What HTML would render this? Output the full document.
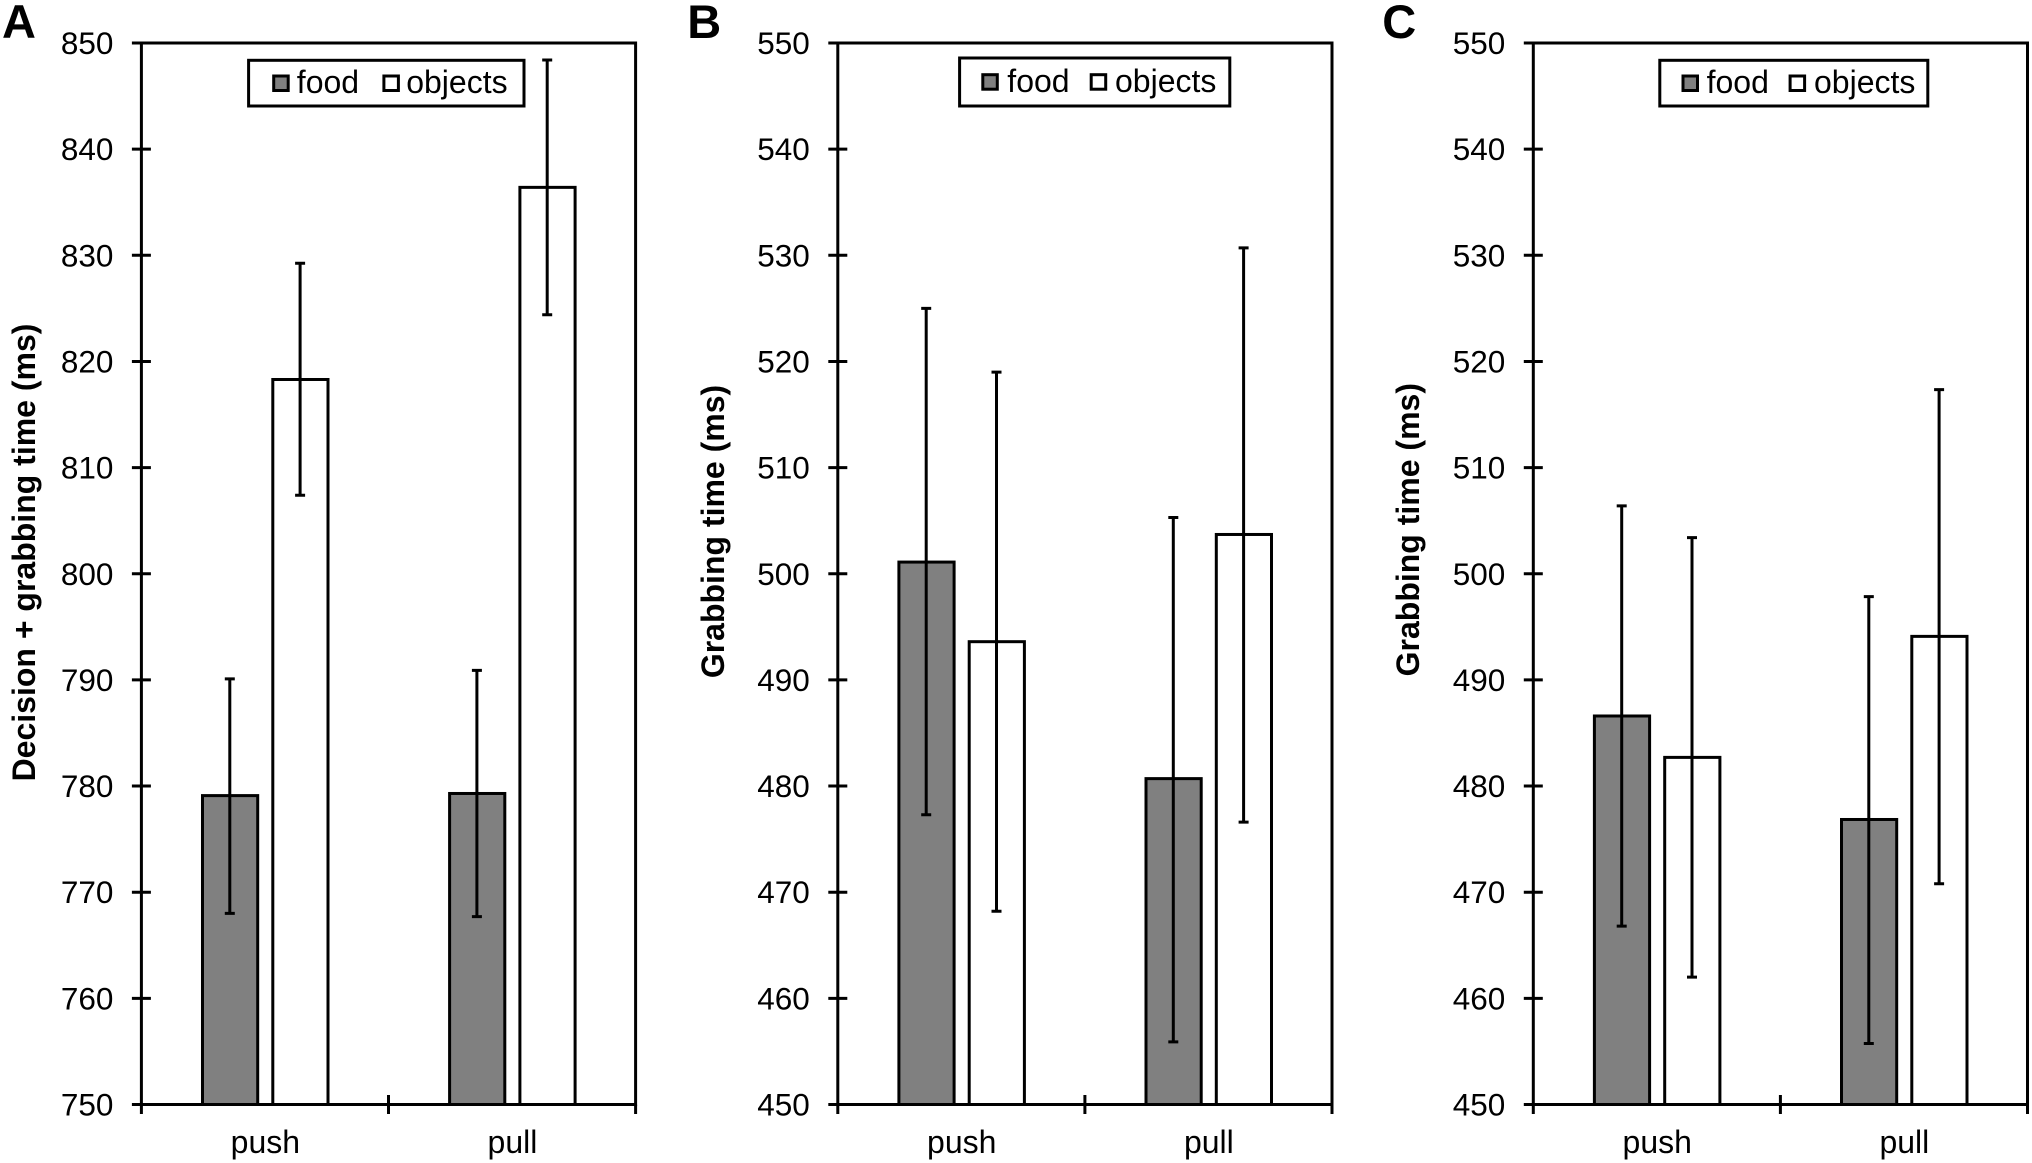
<!DOCTYPE html>
<html lang="en">
<head>
<meta charset="utf-8">
<title>Grabbing time bar charts</title>
<style>
html,body{margin:0;padding:0;background:#fff;width:2032px;height:1163px;overflow:hidden}
svg{display:block;font-family:"Liberation Sans",Arial,sans-serif}
</style>
</head>
<body>
<svg id="figure" width="2032" height="1163" viewBox="0 0 2032 1163" xmlns="http://www.w3.org/2000/svg"></svg>
<script>
const categories = ['push', 'pull'];
const seriesNames = ['food', 'objects'];

const panelATicks = [750, 760, 770, 780, 790, 800, 810, 820, 830, 840, 850];
const panelAFood = [779.1, 779.3];
const panelAFoodHigh = [790.1, 790.9];
const panelAFoodLow = [768.0, 767.7];
const panelAObjects = [818.3, 836.4];
const panelAObjectsHigh = [829.25, 848.4];
const panelAObjectsLow = [807.4, 824.4];

const panelBTicks = [450, 460, 470, 480, 490, 500, 510, 520, 530, 540, 550];
const panelBFood = [501.1, 480.7];
const panelBFoodHigh = [525.0, 505.3];
const panelBFoodLow = [477.3, 455.9];
const panelBObjects = [493.6, 503.7];
const panelBObjectsHigh = [519.0, 530.7];
const panelBObjectsLow = [468.2, 476.6];

const panelCTicks = [450, 460, 470, 480, 490, 500, 510, 520, 530, 540, 550];
const panelCFood = [486.6, 476.85];
const panelCFoodHigh = [506.4, 497.85];
const panelCFoodLow = [466.8, 455.75];
const panelCObjects = [482.7, 494.1];
const panelCObjectsHigh = [503.4, 517.35];
const panelCObjectsLow = [462.0, 470.8];

const panelATitle = 'Decision + grabbing time (ms)';
const panelBTitle = 'Grabbing time (ms)';
const panelCTitle = 'Grabbing time (ms)';

const panels = [
  { id: 'a', letter: 'A', letterX: 2, left: 141.4, ticks: panelATicks, food: panelAFood, foodHigh: panelAFoodHigh, foodLow: panelAFoodLow, objects: panelAObjects, objectsHigh: panelAObjectsHigh, objectsLow: panelAObjectsLow, title: panelATitle, titleX: 35, titleY: 552.5,
    legend: { x: 248.6, y: 60.3, w: 275.4, h: 45.7, s1: 273.7, t1: 296.8, s2: 383.9, t2: 406.2, sy: 76, base: 93 } },
  { id: 'b', letter: 'B', letterX: 687.3, left: 837.8, ticks: panelBTicks, food: panelBFood, foodHigh: panelBFoodHigh, foodLow: panelBFoodLow, objects: panelBObjects, objectsHigh: panelBObjectsHigh, objectsLow: panelBObjectsLow, title: panelBTitle, titleX: 724.2, titleY: 531.5,
    legend: { x: 959.6, y: 58, w: 270.2, h: 48, s1: 982.8, t1: 1007.3, s2: 1091.2, t2: 1115, sy: 74.7, base: 92 } },
  { id: 'c', letter: 'C', letterX: 1382.2, left: 1533.3, ticks: panelCTicks, food: panelCFood, foodHigh: panelCFoodHigh, foodLow: panelCFoodLow, objects: panelCObjects, objectsHigh: panelCObjectsHigh, objectsLow: panelCObjectsLow, title: panelCTitle, titleX: 1419.2, titleY: 529.7,
    legend: { x: 1659.8, y: 60.3, w: 268, h: 45.7, s1: 1683, t1: 1706.6, s2: 1790.1, t2: 1814, sy: 76, base: 93 } }
];

const TOP = 43;
const BOTTOM = 1104.5;
const WIDTH = 494.2;
const BAR_W = 55.2;
const BAR_OFFSET = 35.15;
const INK = '#000';
const NS = 'http://www.w3.org/2000/svg';
const figure = document.getElementById('figure');

function make(parent, tag, attrs, text) {
  const node = document.createElementNS(NS, tag);
  for (const key in attrs) node.setAttribute(key, attrs[key]);
  if (text !== undefined) node.textContent = text;
  parent.appendChild(node);
  return node;
}

function yScale(panel, value) {
  const lo = panel.ticks[0];
  const hi = panel.ticks[panel.ticks.length - 1];
  return BOTTOM - (value - lo) / (hi - lo) * (BOTTOM - TOP);
}

function xCategory(panel, index) {
  return panel.left + (index + 0.5) * WIDTH / categories.length;
}

function drawBar(group, panel, catIndex, seriesIndex, value, high, low) {
  const cx = xCategory(panel, catIndex) + (seriesIndex === 0 ? -BAR_OFFSET : BAR_OFFSET);
  const top = yScale(panel, value);
  const bar = make(group, 'rect', { x: cx - BAR_W / 2 + 0.3, y: top, width: BAR_W, height: BOTTOM - top, fill: seriesIndex === 0 ? '#808080' : '#fff', stroke: INK, 'stroke-width': 3 });
  
  

  const yHigh = yScale(panel, high);
  const yLow = yScale(panel, low);
  const err = make(group, 'path', { d: 'M' + cx + ' ' + yHigh + 'V' + yLow + 'M' + (cx - 5) + ' ' + yHigh + 'H' + (cx + 5) + 'M' + (cx - 5) + ' ' + yLow + 'H' + (cx + 5), fill: 'none', stroke: INK, 'stroke-width': 3 });
  
  
}

function drawPanel(panel) {
  const group = make(figure, 'g', {});
  
  

  const letter = make(group, 'text', { x: panel.letterX, y: 38, 'font-size': 47, 'font-weight': 700, fill: INK }, panel.letter);
  
  

  const title = make(group, 'text', { transform: 'translate(' + panel.titleX + ' ' + panel.titleY + ') rotate(-90)', 'text-anchor': 'middle', 'font-size': 32, 'font-weight': 700, fill: INK }, panel.title);
  
  

  categories.forEach(function (cat, i) {
    drawBar(group, panel, i, 0, panel.food[i], panel.foodHigh[i], panel.foodLow[i]);
    drawBar(group, panel, i, 1, panel.objects[i], panel.objectsHigh[i], panel.objectsLow[i]);
    const label = make(group, 'text', { x: xCategory(panel, i) + 0.4, y: 1153, 'text-anchor': 'middle', 'font-size': 32, fill: INK }, cat);
    
    
  });

  const frame = make(group, 'rect', { x: panel.left, y: TOP, width: WIDTH, height: BOTTOM - TOP, fill: 'none', stroke: INK, 'stroke-width': 3 });
  
  

  panel.ticks.forEach(function (tick) {
    const y = yScale(panel, tick);
    const mark = make(group, 'line', { x1: panel.left - 9.5, x2: panel.left + 9.5, y1: y, y2: y, stroke: INK, 'stroke-width': 3 });
    
    
    const label = make(group, 'text', { x: panel.left - 28, y: y + 11, 'text-anchor': 'end', 'font-size': 31.5, fill: INK }, String(tick));
    
    
  });

  for (let i = 0; i <= categories.length; i++) {
    const x = panel.left + i * WIDTH / categories.length;
    const mark = make(group, 'line', { x1: x, x2: x, y1: i === 1 ? BOTTOM - 9.5 : BOTTOM, y2: BOTTOM + 9.5, stroke: INK, 'stroke-width': 3 });
    
    
  }

  const lg = panel.legend;
  const legend = make(group, 'g', {});
  
  
  make(legend, 'rect', { x: lg.x, y: lg.y, width: lg.w, height: lg.h, fill: '#fff', stroke: INK, 'stroke-width': 3 });

  const foodEntry = make(legend, 'g', {});
  
  
  make(foodEntry, 'rect', { x: lg.s1, y: lg.sy, width: 14.5, height: 14.5, fill: '#808080', stroke: INK, 'stroke-width': 3 });
  make(foodEntry, 'text', { x: lg.t1, y: lg.base, 'font-size': 32, fill: INK }, seriesNames[0]);

  const objectsEntry = make(legend, 'g', {});
  
  
  make(objectsEntry, 'rect', { x: lg.s2, y: lg.sy, width: 14.5, height: 14.5, fill: '#fff', stroke: INK, 'stroke-width': 3 });
  make(objectsEntry, 'text', { x: lg.t2, y: lg.base, 'font-size': 32, fill: INK }, seriesNames[1]);
}

panels.forEach(drawPanel);
</script>
</body>
</html>
